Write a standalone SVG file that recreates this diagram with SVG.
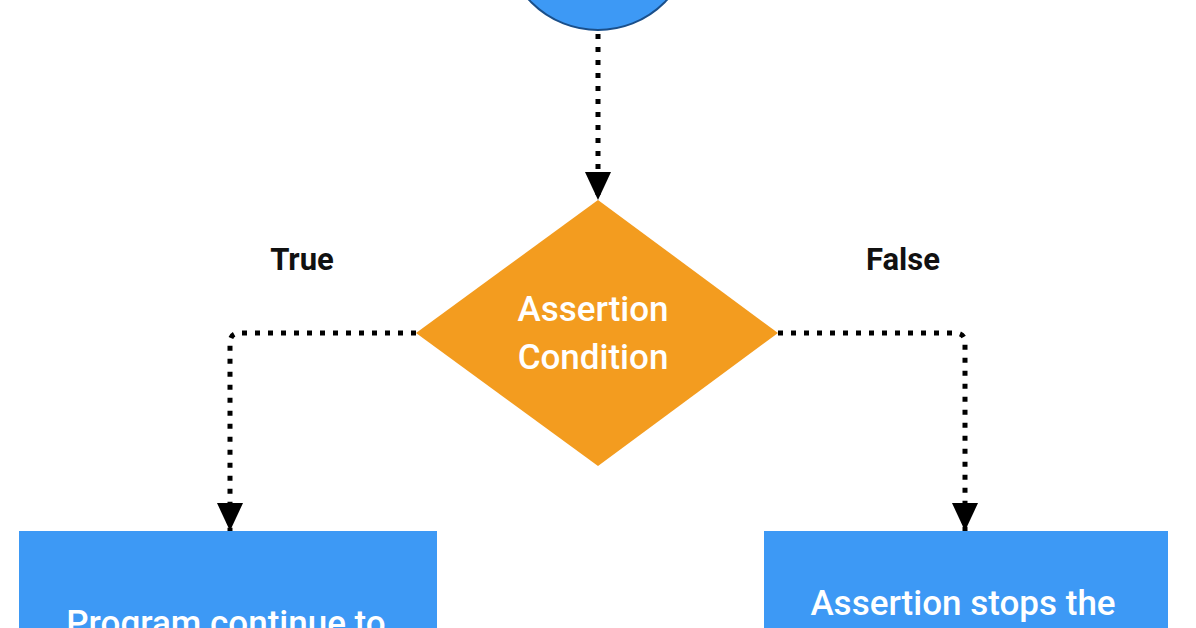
<svg xmlns="http://www.w3.org/2000/svg" width="1196" height="628" viewBox="0 0 1196 628">
<style>
.c{fill:none;stroke:#000;stroke-width:5;stroke-dasharray:5 8;stroke-linejoin:round}
.t{font-family:Roboto,"Liberation Sans",sans-serif;font-size:35px;font-weight:500;fill:#fff;text-anchor:middle}
.l{font-family:Roboto,"Liberation Sans",sans-serif;font-size:31px;font-weight:bold;fill:#111;text-anchor:middle}
</style>
<defs><marker id="a" markerWidth="28" markerHeight="28" viewBox="0 0 28 28" refX="28" refY="14" orient="auto" markerUnits="userSpaceOnUse"><path d="M0,1L28,14L0,27z" fill="#000"/></marker></defs>
<rect width="1196" height="628" fill="#fff"/>
<g id="start"><circle cx="598" cy="-64" r="94" fill="#3d99f5" stroke="#1a4f8a" stroke-width="2"/></g>
<g id="cond"><polygon points="598,200 778,333 598,466 416,333" fill="#f39c1f"/>
<text class="t" x="593" y="321">Assertion</text><text class="t" x="593" y="369">Condition</text></g>
<g id="cont"><rect x="19" y="531" width="418" height="120" fill="#3d99f5"/><text class="t" x="226" y="635">Program continue to</text></g>
<g id="stop"><rect x="764" y="531" width="404" height="120" fill="#3d99f5"/><text class="t" x="963" y="615">Assertion stops the</text></g>
<g id="labels"><text class="l" x="302" y="270">True</text><text class="l" x="903" y="270">False</text></g>
<g id="connectors">
<path class="c" d="M598,34V200" marker-end="url(#a)"/>
<path class="c" d="M416,333H240Q230,333 230,343V531" marker-end="url(#a)"/>
<path class="c" d="M778,333H955Q965,333 965,343V531" marker-end="url(#a)"/>
</g>
</svg>
